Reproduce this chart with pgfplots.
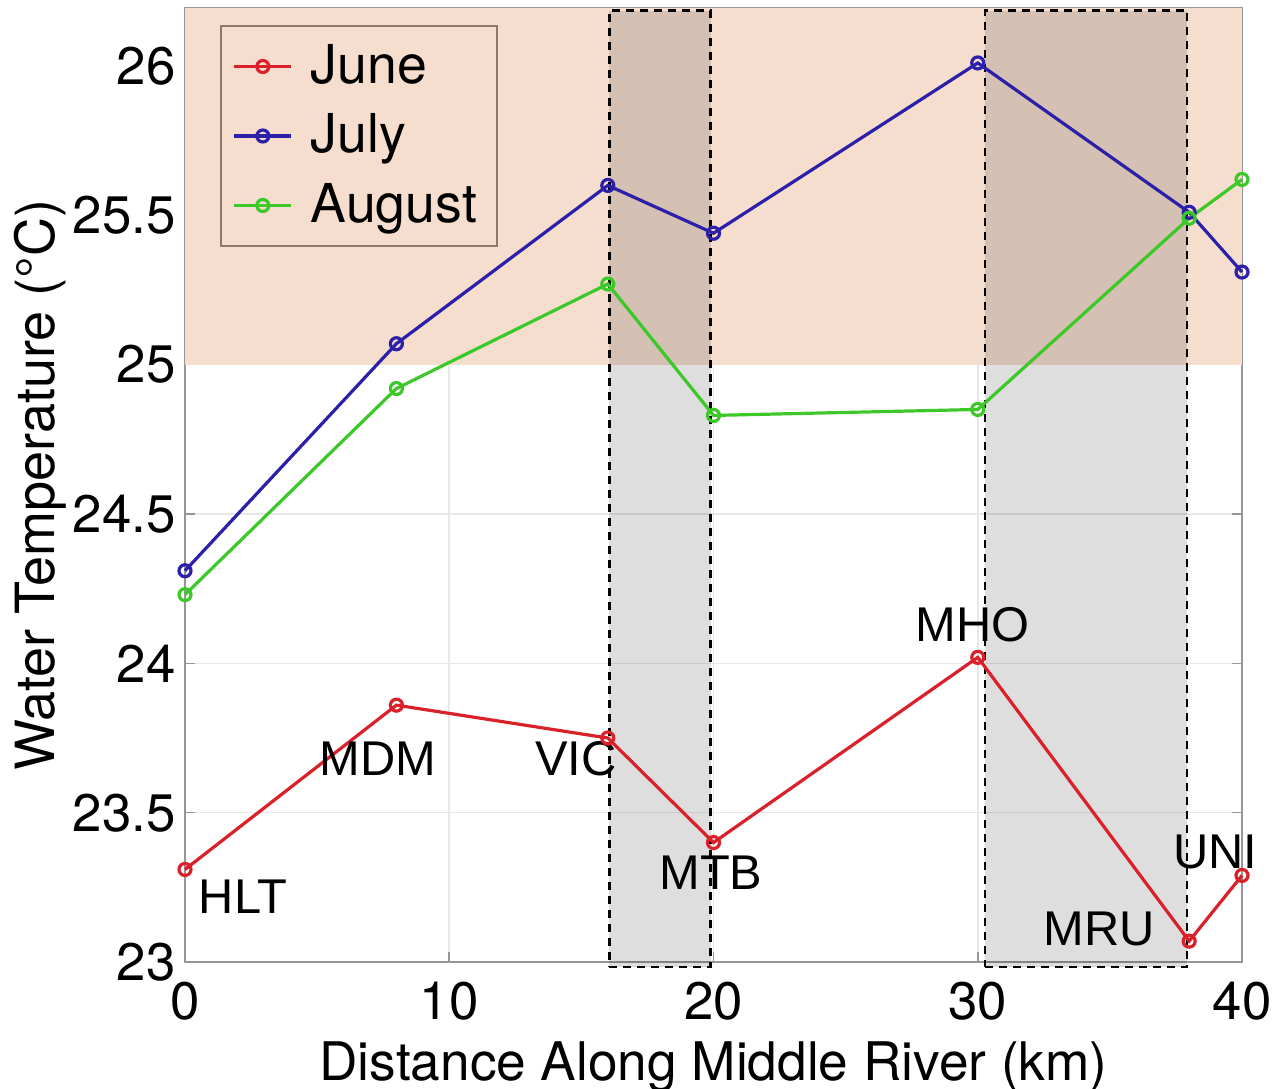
\documentclass[border=0pt]{standalone}
\usepackage{pgfplots}
\pgfplotsset{compat=1.18}
\usepackage{fontspec}
\setmainfont{TeX Gyre Heros}
\newfontfamily\arialf{Liberation Sans}
\definecolor{bgorange}{RGB}{245,222,206}
\definecolor{cjune}{RGB}{218,32,40}
\definecolor{cjuly}{RGB}{44,32,168}
\definecolor{caug}{RGB}{60,200,40}
\definecolor{axgray}{RGB}{150,150,150}
\definecolor{legedge}{RGB}{140,120,110}
\begin{document}
\begin{tikzpicture}
\begin{axis}[
  name=ax,
  scale only axis,
  width=264.25pt, height=238.5pt,
  xmin=0, xmax=40, ymin=23, ymax=26.194,
  xtick={0,10,20,30,40},
  ytick={23,23.5,24,24.5,25,25.5,26},
  yticklabels={23,23.5,24,24.5,25,25.5,26},
  /pgf/number format/assume math mode=true,
  tick label style={font=\fontsize{13.2}{15}\selectfont},
  xticklabel style={yshift=-1.5pt},
  yticklabel style={xshift=1.2pt},
  xlabel={Distance Along Middle River (km)},
  ylabel={Water Temperature (°C)},
  every axis x label/.style={at={(axis description cs:0.5,0)}, anchor=base, yshift=-29.5pt,
    font=\fontsize{13.3}{15}\selectfont},
  every axis y label/.style={at={(axis description cs:0,0.5)}, anchor=center, rotate=90, yshift=36.25pt,
    font=\fontsize{13.5}{15}\selectfont},
  tick align=inside,
  major tick length=2.5pt,
  tick style={axgray, line width=0.4pt},
  axis line style={axgray, line width=0.6pt},
  grid=major,
  major grid style={black!9, line width=0.4pt},
  clip=false,
  legend style={at={(0.0331,0.982)}, anchor=north west, fill=bgorange, draw=legedge,
    font=\fontsize{13.4}{15}\selectfont, row sep=2.1pt, inner xsep=3pt, inner ysep=2.5pt,
    /tikz/every odd column/.append style={column sep=2.5pt}},
  legend cell align=left,
  legend image code/.code={
    \draw[mark repeat=2, mark phase=2] plot coordinates {(0cm,0cm) (0.25cm,0cm) (0.5cm,0cm)};},
]
\addplot[fill=bgorange, draw=none, forget plot] coordinates {(0,25) (40,25) (40,26.194) (0,26.194)} -- cycle;
\addplot[fill=black, fill opacity=0.13, draw=black, dash pattern=on 2pt off 1.5pt, line width=0.6pt, forget plot] coordinates {(16.06,22.983) (19.89,22.983) (19.89,26.185) (16.06,26.185)} -- cycle;
\addplot[fill=black, fill opacity=0.13, draw=black, dash pattern=on 2pt off 1.5pt, line width=0.6pt, forget plot] coordinates {(30.27,22.983) (37.92,22.983) (37.92,26.185) (30.27,26.185)} -- cycle;

\addplot[cjune, line width=0.8pt, mark=o, mark size=1.5pt] coordinates {
(0,23.31) (8,23.86) (16,23.75) (20,23.40) (30,24.02) (38,23.07) (40,23.29)};
\addlegendentry{June}
\addplot[cjuly, line width=0.8pt, mark=o, mark size=1.5pt] coordinates {
(0,24.31) (8,25.07) (16,25.60) (20,25.44) (30,26.01) (38,25.51) (40,25.31)};
\addlegendentry{July}
\addplot[caug, line width=0.8pt, mark=o, mark size=1.5pt] coordinates {
(0,24.23) (8,24.92) (16,25.27) (20,24.83) (30,24.85) (38,25.49) (40,25.62)};
\addlegendentry{August}

\begin{scope}[every node/.style={font=\arialf\fontsize{12.2}{14}\selectfont, inner sep=0pt}]
\node at (axis cs:2.2,23.22) {HLT};
\node at (axis cs:7.31,23.68) {MDM};
\node at (axis cs:14.8,23.68) {VIC};
\node at (axis cs:19.9,23.30) {MTB};
\node at (axis cs:29.8,24.13) {MHO};
\node at (axis cs:34.6,23.11) {MRU};
\node at (axis cs:38.98,23.37) {UNI};
\end{scope}
\end{axis}
\pgfresetboundingbox
\path ([xshift=-46.25pt, yshift=-31.5pt]ax.south west) rectangle ([xshift=11.5pt, yshift=2pt]ax.north east);
\end{tikzpicture}
\end{document}
